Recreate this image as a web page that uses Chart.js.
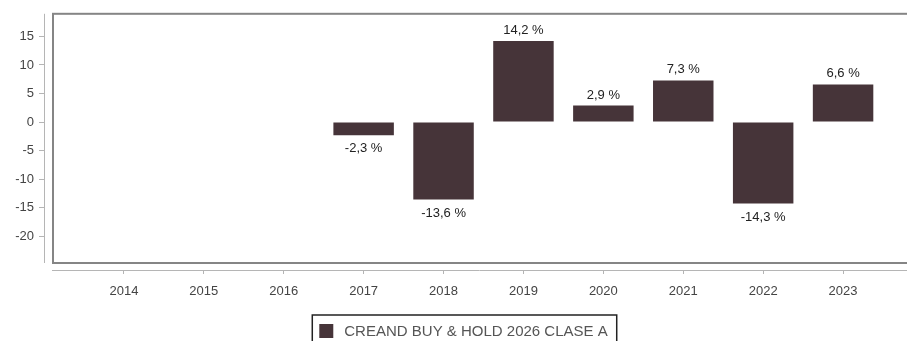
<!DOCTYPE html>
<html>
<head>
<meta charset="utf-8">
<script src="https://cdn.jsdelivr.net/npm/chart.js@4"></script>
<style>
  html, body { margin: 0; padding: 0; background: #fff; overflow: hidden; }
  #wrap { width: 907px; height: 341px; overflow: hidden; }
  #box { position: relative; width: 907px; height: 360px; }
</style>
</head>
<body>
<div id="wrap"><div id="box"><canvas id="myChart"></canvas></div></div>
<script>
const years = [2014, 2015, 2016, 2017, 2018, 2019, 2020, 2021, 2022, 2023]
const rentabilidad = [null, null, null, -2.3, -13.6, 14.2, 2.9, 7.3, -14.3, 6.6]
const yTicks = [-20, -15, -10, -5, 0, 5, 10, 15]
const serieLabel = 'CREAND BUY & HOLD 2026 CLASE A'

const barColor = '#463439'
const axisColor = '#b5b5b5'
const textColor = '#444'
const font = "'Liberation Sans', Arial, sans-serif"

const ctx = document.getElementById('myChart')

const fmt = v => v.toFixed(1).replace('.', ',') + ' %'

// marco gris del area de dibujo y lineas de los ejes, separadas del marco
const frame = {
  id: 'frame',
  beforeDatasetsDraw(chart) {
    const a = chart.chartArea
    const c = chart.ctx
    c.save()
    c.strokeStyle = '#858585'
    c.lineWidth = 2
    c.strokeRect(a.left + 9, a.top + 1, a.right - a.left + 10, a.bottom - a.top - 8)
    c.strokeStyle = axisColor
    c.lineWidth = 1
    c.beginPath()
    c.moveTo(a.left + 0.5, a.top + 1)
    c.lineTo(a.left + 0.5, a.bottom - 7)
    c.moveTo(a.left + 8, a.bottom + 0.5)
    c.lineTo(a.right, a.bottom + 0.5)
    c.stroke()
    c.restore()
  }
}

// etiquetas de valor encima / debajo de cada barra
const valueLabels = {
  id: 'valueLabels',
  afterDatasetsDraw(chart) {
    const c = chart.ctx
    const meta = chart.getDatasetMeta(0)
    c.save()
    c.font = '13px ' + font
    c.fillStyle = '#222'
    c.textAlign = 'center'
    meta.data.forEach((bar, i) => {
      const v = rentabilidad[i]
      if (v === null) return
      if (v >= 0) {
        c.textBaseline = 'bottom'
        c.fillText(fmt(v), bar.x, bar.y - 4)
      } else {
        c.textBaseline = 'top'
        c.fillText(fmt(v), bar.x, bar.y + 7)
      }
    })
    c.restore()
  }
}

// leyenda con recuadro negro
const boxedLegend = {
  id: 'boxedLegend',
  afterDraw(chart) {
    const c = chart.ctx
    const a = chart.chartArea
    const ds = chart.data.datasets[0]
    c.save()
    c.font = '15px ' + font
    const tw = c.measureText(ds.label).width
    const w = 7 + 14 + 11 + tw + 9
    const x = (a.left + a.right) / 2 - 11 - w / 2
    const y = a.bottom + 45
    c.strokeStyle = '#222'
    c.lineWidth = 1.5
    c.strokeRect(x, y, w, 30)
    c.fillStyle = ds.backgroundColor
    c.fillRect(x + 7, y + 9, 14, 14)
    c.fillStyle = '#555'
    c.textBaseline = 'middle'
    c.fillText(ds.label, x + 32, y + 17)
    c.restore()
  }
}

const data = {
  labels: years,
  datasets: [{
    label: serieLabel,
    data: years.map((y, i) => ({ x: y, y: rentabilidad[i] })),
    backgroundColor: barColor,
    borderWidth: 0,
    barPercentage: 0.86,
    categoryPercentage: 0.88
  }]
}

const config = {
  type: 'bar',
  data: data,
  options: {
    responsive: true,
    maintainAspectRatio: false,
    animation: false,
    layout: { padding: { top: 11, right: 0, bottom: 44, left: 0 } },
    plugins: {
      legend: { display: false },
      tooltip: { enabled: false }
    },
    scales: {
      x: {
        type: 'linear',
        min: 2013,
        max: 2023.8,
        offset: false,
        grid: { offset: false, drawOnChartArea: false, drawTicks: true, tickLength: 4, color: axisColor },
        border: { display: false },
        afterBuildTicks: s => { s.ticks = years.map(v => ({ value: v })) },
        afterFit: s => { s.height = 46 },
        ticks: {
          autoSkip: false,
          maxRotation: 0,
          padding: 10,
          color: textColor,
          font: { family: font, size: 13 },
          callback: v => String(v)
        }
      },
      y: {
        min: -25.94,
        max: 19.15,
        grid: { drawOnChartArea: false, drawTicks: true, tickLength: 5, color: axisColor },
        border: { display: false },
        afterBuildTicks: s => { s.ticks = yTicks.map(v => ({ value: v })) },
        afterFit: s => { s.width = 44 },
        ticks: {
          padding: 5,
          color: textColor,
          font: { family: font, size: 13 }
        }
      }
    }
  },
  plugins: [frame, valueLabels, boxedLegend]
}

const myChart = new Chart(ctx, config)
</script>
</body>
</html>
